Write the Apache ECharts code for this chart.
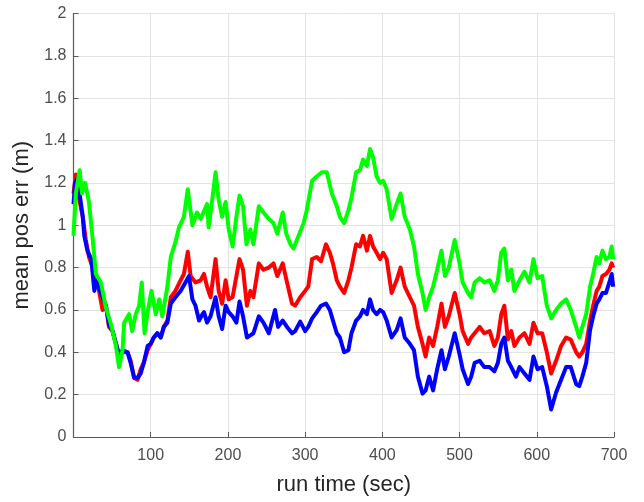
<!DOCTYPE html>
<html>
<head>
<meta charset="utf-8">
<script src="https://cdn.jsdelivr.net/npm/echarts@6/dist/echarts.min.js"></script>
<style>html,body{margin:0;padding:0;background:#fff}#c{width:644px;height:502px}</style>
</head>
<body>
<div id="c"></div>
<script>
var xTicks = [0, 100, 200, 300, 400, 500, 600, 700];
var yTicks = [0, 0.2, 0.4, 0.6, 0.8, 1, 1.2, 1.4, 1.6, 1.8, 2];

var greenT = [0,3,8,11,15,20,25,29,35.5,42,48,55,59,63.5,65.6,72,76,80.6,85,88.4,92,96.5,101,106.5,111,115,121.6,126,132,136.6,143,148,154,160,164.6,173,175,180,184,188,192.5,197,201,206,211,215,219.6,224,229,233,240,246,253,259,264,271,275.6,281,285,291.5,298,302,309,315,321.6,328,334.6,341,345,350.5,356,360,366,371,375,380,384,388,392.6,397,401,405.6,412,418.5,423.6,429,435.6,441,446,452,456,460.6,465.7,471,476.6,481,486,493.7,500,504,511,515,519.5,526,532,539,545,549.6,554,558,562.6,567,571,577.6,584,590.6,595.7,601,607,613,618.6,625,631.5,638,644,651,655,659,664,669,673,677.5,681,685,689.6,694,697,699];
var greenV = [0.95,1.15,1.26,1.15,1.2,1.11,0.93,0.77,0.73,0.61,0.54,0.43,0.33,0.41,0.54,0.58,0.5,0.58,0.62,0.73,0.49,0.6,0.69,0.58,0.65,0.57,0.71,0.85,0.92,0.99,1.04,1.17,1.0,1.06,1.03,1.1,0.99,1.13,1.25,1.12,1.04,1.11,0.98,0.9,1.04,1.14,1.09,0.91,0.98,0.91,1.09,1.06,1.03,1.01,0.96,1.06,0.96,0.91,0.89,0.95,1.01,1.07,1.21,1.23,1.25,1.25,1.15,1.09,1.04,1.01,1.07,1.13,1.25,1.26,1.31,1.28,1.36,1.32,1.23,1.2,1.21,1.17,1.03,1.1,1.15,1.04,0.98,0.9,0.77,0.68,0.6,0.66,0.71,0.79,0.88,0.76,0.8,0.93,0.82,0.73,0.68,0.66,0.73,0.75,0.73,0.74,0.69,0.74,0.87,0.89,0.74,0.79,0.69,0.74,0.78,0.73,0.84,0.75,0.76,0.62,0.56,0.6,0.63,0.65,0.6,0.52,0.47,0.52,0.58,0.71,0.77,0.85,0.82,0.88,0.84,0.85,0.9,0.84];

var redT = [0,3,7.5,12,16,20,25,27,31,37.6,42,46,50.6,55,59,63.5,70,74,78.5,83,87,91,96,100,104,108.6,113,117,121.6,126,132,138.7,143,148,151.7,158,164.6,169,173,177.5,184,188,192.5,197,201,206,211,215,219.6,224.6,229,233,240,246,253,259,264,271,276.5,283,287,293.6,300,304,309,315,320.6,327,332,336,341,345,350.5,356,360,366,371,375,380,384,388,392.6,397,401,405.6,412,418.5,423.6,429,435.6,441,446,452,456,460.6,465.7,471,476.6,481,486,493.7,500,504,511,515,519.5,526,532,539,545,549.6,554,558,562.6,567,571,577.6,584,590.6,595.7,601,607,613,618.6,625,631.5,638,644,651,655,659,664,669,673,677.5,681,685,689.6,694,697,699];
var redV = [1.15,1.24,1.12,1.04,0.93,0.85,0.8,0.76,0.73,0.6,0.62,0.52,0.5,0.44,0.38,0.4,0.4,0.36,0.28,0.27,0.32,0.35,0.41,0.44,0.47,0.49,0.47,0.52,0.55,0.66,0.69,0.74,0.77,0.875,0.76,0.73,0.74,0.77,0.71,0.66,0.84,0.69,0.63,0.74,0.65,0.66,0.76,0.84,0.79,0.62,0.69,0.66,0.82,0.79,0.8,0.82,0.76,0.82,0.73,0.63,0.62,0.66,0.69,0.71,0.84,0.85,0.83,0.91,0.87,0.82,0.74,0.71,0.68,0.74,0.8,0.91,0.9,0.95,0.88,0.95,0.9,0.87,0.84,0.87,0.84,0.68,0.74,0.8,0.71,0.66,0.62,0.52,0.44,0.38,0.47,0.43,0.52,0.63,0.52,0.57,0.68,0.58,0.5,0.44,0.47,0.49,0.52,0.49,0.5,0.43,0.47,0.58,0.62,0.46,0.5,0.43,0.47,0.49,0.44,0.54,0.49,0.49,0.4,0.3,0.36,0.43,0.47,0.46,0.4,0.38,0.4,0.44,0.55,0.62,0.69,0.71,0.76,0.77,0.79,0.82,0.8];

var blueT = [0,2,5.4,9,12,14,18,23,27,30,35.5,42,46,50.6,55,59,63.5,70,74,78.5,83,87,91,96,100,104,108.6,113,117,121.6,126,132,138.7,145,149.6,154,158,162.6,167,169,173,177.5,184,188,192.5,197,201,206,211,215,219.6,224.6,229,233,240,246,253,261,265,271,276.5,283,287,293.6,300,304,309,315,320.6,327,332,336,341,345,350.5,356,360,366,371,375,380,384,388,392.6,397,401,405.6,412,418.5,423.6,429,435.6,441,446,452,456,460.6,465.7,471,476.6,481,486,493.7,500,504,511,515,519.5,526,532,539,545,549.6,554,558,562.6,567,573,577.6,584,590.6,595.7,601,607,613,618.6,625,631.5,638,644,651,655,659,664,669,673,677.5,681,685,689.6,694,697,699];
var blueV = [1.1,1.2,1.22,1.12,1.04,0.95,0.88,0.84,0.69,0.74,0.68,0.62,0.53,0.5,0.44,0.39,0.41,0.4,0.35,0.28,0.28,0.3,0.35,0.43,0.44,0.47,0.49,0.47,0.52,0.54,0.63,0.66,0.69,0.73,0.76,0.65,0.62,0.55,0.58,0.59,0.54,0.57,0.66,0.57,0.51,0.62,0.59,0.57,0.54,0.64,0.57,0.47,0.48,0.49,0.57,0.54,0.49,0.6,0.52,0.55,0.52,0.49,0.5,0.545,0.5,0.52,0.56,0.59,0.62,0.63,0.6,0.55,0.49,0.47,0.4,0.41,0.49,0.55,0.57,0.6,0.58,0.65,0.6,0.58,0.6,0.59,0.55,0.47,0.505,0.56,0.47,0.44,0.41,0.285,0.205,0.22,0.285,0.22,0.32,0.41,0.32,0.38,0.49,0.39,0.32,0.25,0.285,0.35,0.36,0.33,0.33,0.31,0.35,0.44,0.47,0.36,0.33,0.285,0.33,0.3,0.27,0.38,0.32,0.33,0.24,0.13,0.21,0.27,0.33,0.33,0.25,0.24,0.285,0.35,0.505,0.57,0.63,0.65,0.68,0.68,0.73,0.77,0.71];

function pairs(t, v) { return t.map(function (x, i) { return [x, v[i]]; }); }

var FONT = 'Liberation Sans, Arial, Helvetica, sans-serif';
var chart = echarts.init(document.getElementById('c'), null, { renderer: 'canvas' });
function mkSeries(name, t, v, color) {
  return {
    name: name, type: 'line', data: pairs(t, v), showSymbol: false, symbol: 'none',
    lineStyle: { color: color, width: 4, join: 'round' }, itemStyle: { color: color },
    animation: false, silent: true
  };
}
chart.setOption({
  animation: false,
  backgroundColor: '#ffffff',
  grid: { left: 73.5, right: 30, top: 13.5, bottom: 65, containLabel: false },
  xAxis: {
    type: 'value', min: xTicks[0], max: xTicks[xTicks.length - 1], interval: 100,
    name: 'run time (sec)', nameLocation: 'middle', nameGap: 37,
    nameTextStyle: { fontFamily: FONT, fontSize: 22, color: '#262626' },
    axisLine: { show: true, lineStyle: { color: '#5a5a5a', width: 1.2 } },
    axisTick: { show: true, inside: true, length: 5, lineStyle: { color: '#5a5a5a' } },
    axisLabel: { fontFamily: FONT, fontSize: 16, color: '#4d4d4d', margin: 11,
      formatter: function (v) { return v === 0 ? '' : String(v); } },
    splitLine: { show: true, lineStyle: { color: '#e3e3e3', width: 1 } }
  },
  yAxis: {
    type: 'value', min: yTicks[0], max: yTicks[yTicks.length - 1], interval: 0.2,
    name: 'mean pos err (m)', nameLocation: 'middle', nameGap: 36,
    nameTextStyle: { fontFamily: FONT, fontSize: 22, color: '#262626' },
    axisLine: { show: true, lineStyle: { color: '#5a5a5a', width: 1.2 } },
    axisTick: { show: true, inside: true, length: 5, lineStyle: { color: '#5a5a5a' } },
    axisLabel: { fontFamily: FONT, fontSize: 16, color: '#4d4d4d', margin: 7,
      formatter: function (v) { return String(Math.round(v * 10) / 10); } },
    splitLine: { show: true, lineStyle: { color: '#e3e3e3', width: 1 } }
  },
  series: [
    mkSeries('red', redT, redV, '#ff0000'),
    mkSeries('blue', blueT, blueV, '#0000ff'),
    mkSeries('green', greenT, greenV, '#00ff00')
  ]
});
</script>
</body>
</html>
